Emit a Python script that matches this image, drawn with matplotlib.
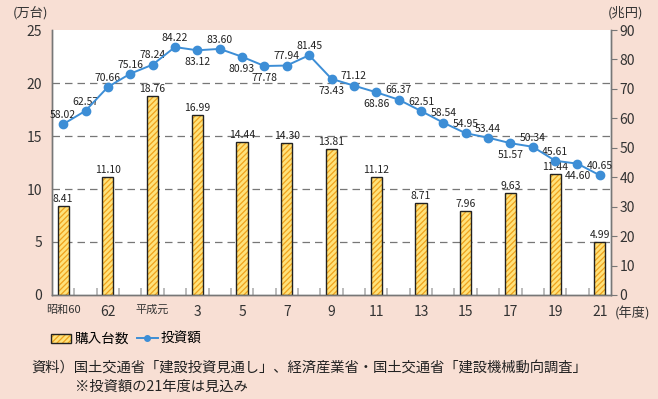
import matplotlib
matplotlib.use("Agg")
import matplotlib.pyplot as plt
from matplotlib.patches import Patch
from matplotlib.lines import Line2D
from matplotlib.legend_handler import HandlerTuple
import numpy as np

plt.rcParams['font.family'] = ['Noto Sans CJK JP', 'DejaVu Sans']
plt.rcParams['hatch.linewidth'] = 0.9

# data
years = ['昭和60', '61', '62', '63', '平成元', '2', '3', '4', '5', '6', '7', '8', '9',
         '10', '11', '12', '13', '14', '15', '16', '17', '18', '19', '20', '21']
invest = [58.02, 62.57, 70.66, 75.16, 78.24, 84.22, 83.12, 83.60, 80.93, 77.78,
          77.94, 81.45, 73.43, 71.12, 68.86, 66.37, 62.51, 58.54, 54.95, 53.44,
          51.57, 50.34, 45.61, 44.60, 40.65]
bar_years = ['昭和60', '62', '平成元', '3', '5', '7', '9', '11', '13', '15', '17', '19', '21']
units = [8.41, 11.10, 18.76, 16.99, 14.44, 14.30, 13.81, 11.12, 8.71, 7.96, 9.63, 11.44, 4.99]
below = [6, 8, 9, 12, 14, 20, 23]   # line labels drawn under the point

bg = '#F8DFD4'
fill = '#FFE27A'
hatch_c = '#EFA21C'
blue = '#3D8ED6'
grey = '#777777'

fig = plt.figure(figsize=(6.58, 3.99), dpi=100, facecolor=bg)
ax = fig.add_axes([0.079, 0.2607, 0.8496, 0.664])
ax.set_facecolor('white')
ax2 = ax.twinx()

x = np.arange(len(years))
bx = [years.index(y) for y in bar_years]

# bars: hatched fill then dark outline
ax.bar(bx, units, width=0.5, color=fill, edgecolor=hatch_c, hatch='//////', linewidth=0, zorder=3)
ax.bar(bx, units, width=0.5, fill=False, edgecolor='#222222', linewidth=1.0, zorder=4)
for xi, v in zip(bx, units):
    ax.annotate(f'{v:.2f}', (xi, v), xytext=(0, 1.5), textcoords='offset points',
                ha='center', va='bottom', fontsize=7.5, color='#222222', zorder=5)

ax2.plot(x, invest, color=blue, lw=1.4, marker='o', ms=6, zorder=5)
for i, v in enumerate(invest):
    if i in below:
        ax2.annotate(f'{v:.2f}', (i, v), xytext=(0, -5), textcoords='offset points',
                     ha='center', va='top', fontsize=7.5, color='#222222')
    else:
        ax2.annotate(f'{v:.2f}', (i, v), xytext=(0, 3), textcoords='offset points',
                     ha='center', va='bottom', fontsize=7.5, color='#222222')

ax.set_xlim(-0.5, len(years) - 0.5)
ax.set_ylim(0, 25)
ax.set_yticks([0, 5, 10, 15, 20, 25])
ax2.set_ylim(0, 90)
ax2.set_yticks(range(0, 91, 10))

ax.set_zorder(ax2.get_zorder() - 1)
ax.patch.set_visible(True)
ax2.patch.set_visible(False)

for v in [5, 10, 15, 20]:
    ax.axhline(v, color=grey, lw=0.9, ls=(0, (6, 4)), zorder=1)

ax.set_xticks(bx)
ax.set_xticklabels(bar_years)
for lab in ax.get_xticklabels():
    lab.set_fontsize(8 if len(lab.get_text()) > 2 else 10)
ax.set_xticks(np.arange(0.5, len(years) - 1, 1), minor=True)
ax.tick_params(axis='x', which='major', length=0, pad=7, colors='#333333')
ax.tick_params(axis='x', which='minor', direction='in', length=5, width=1.4, color='#bbbbbb')
ax.tick_params(axis='y', length=0, pad=7, labelsize=10, colors='#333333')
ax2.tick_params(axis='y', length=4, pad=2, labelsize=10, colors='#333333', color=grey)

for a in (ax, ax2):
    a.spines['top'].set_visible(False)
    for s in ('left', 'right', 'bottom'):
        a.spines[s].set_color(grey)
        a.spines[s].set_linewidth(1.0)

fig.text(0.020, 0.967, '(万台)', fontsize=9.5, va='center', ha='left', color='#333333')
fig.text(0.924, 0.967, '(兆円)', fontsize=9.5, va='center', ha='left', color='#333333')
fig.text(0.934, 0.215, '(年度)', fontsize=9.5, va='center', ha='left', color='#333333')

h_bar = (Patch(facecolor=fill, edgecolor=hatch_c, hatch='//////', linewidth=0),
         Patch(fill=False, edgecolor='#222222', linewidth=1.0))
h_line = Line2D([], [], color=blue, lw=1.4, marker='o', ms=4)
fig.legend([h_bar, h_line], ['購入台数', '投資額'], handler_map={tuple: HandlerTuple(ndivide=1)},
           loc='center left', bbox_to_anchor=(0.077, 0.150), ncol=2, frameon=False,
           borderpad=0, borderaxespad=0,
           fontsize=9.8, handlelength=1.5, handletextpad=0.25, columnspacing=0.6)

fig.text(0.047, 0.078, '資料）国土交通省「建設投資見通し」、経済産業省・国土交通省「建設機械動向調査」',
         fontsize=10.3, va='center', ha='left', color='#222222')
fig.text(0.114, 0.030, '※投資額の21年度は見込み', fontsize=10.3, va='center', ha='left', color='#222222')

fig.savefig('out.png', dpi=100, facecolor=bg)
